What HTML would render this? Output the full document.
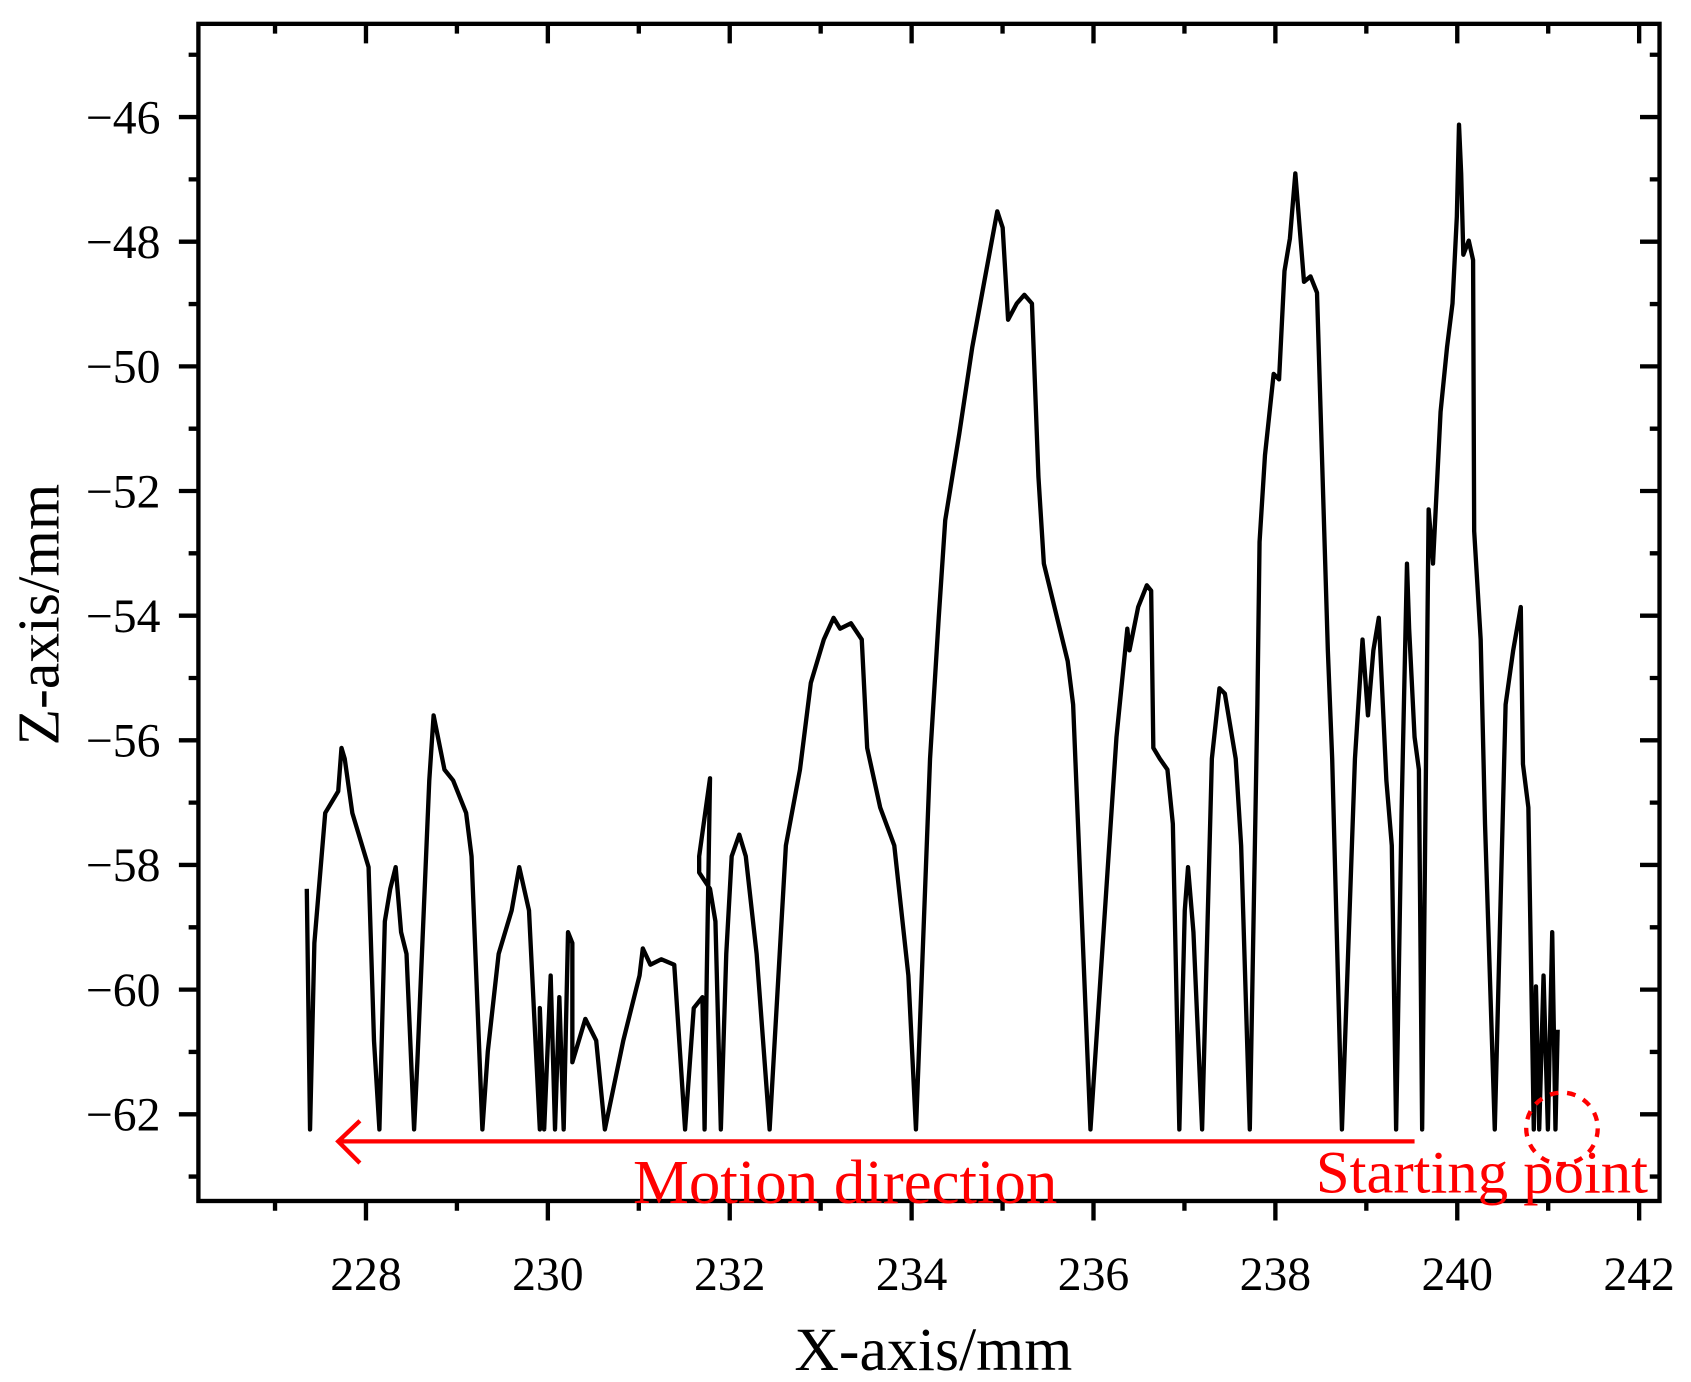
<!DOCTYPE html>
<html><head><meta charset="utf-8"><style>html,body{margin:0;padding:0;background:#fff}svg{display:block}</style></head>
<body>
<svg width="1691" height="1382" viewBox="0 0 1560 1275" xmlns="http://www.w3.org/2000/svg" font-family="Liberation Serif, serif">
<rect width="1560" height="1275" fill="#fff"/>
<g stroke="#000" stroke-width="4">
<rect x="183" y="22" width="1348" height="1086" fill="none"/>
<path d="M253.7,1108v9 M337.6,1108v18 M421.5,1108v9 M505.4,1108v18 M589.3,1108v9 M673.2,1108v18 M757.1,1108v9 M841,1108v18 M924.9,1108v9 M1008.8,1108v18 M1092.7,1108v9 M1176.6,1108v18 M1260.5,1108v9 M1344.4,1108v18 M1428.3,1108v9 M1512.2,1108v18"/>
<path d="M253.7,22v9 M337.6,22v18 M421.5,22v9 M505.4,22v18 M589.3,22v9 M673.2,22v18 M757.1,22v9 M841,22v18 M924.9,22v9 M1008.8,22v18 M1092.7,22v9 M1176.6,22v18 M1260.5,22v9 M1344.4,22v18 M1428.3,22v9 M1512.2,22v18"/>
<path d="M183,50.5h-9 M183,108h-18 M183,165.5h-9 M183,223h-18 M183,280.5h-9 M183,338h-18 M183,395.5h-9 M183,453h-18 M183,510.5h-9 M183,568h-18 M183,625.5h-9 M183,683h-18 M183,740.5h-9 M183,798h-18 M183,855.5h-9 M183,913h-18 M183,970.5h-9 M183,1028h-18 M183,1085.5h-9"/>
<path d="M1531,50.5h-9 M1531,108h-18 M1531,165.5h-9 M1531,223h-18 M1531,280.5h-9 M1531,338h-18 M1531,395.5h-9 M1531,453h-18 M1531,510.5h-9 M1531,568h-18 M1531,625.5h-9 M1531,683h-18 M1531,740.5h-9 M1531,798h-18 M1531,855.5h-9 M1531,913h-18 M1531,970.5h-9 M1531,1028h-18 M1531,1085.5h-9"/>
</g>
<g font-size="44" text-anchor="middle">
<text x="337.6" y="1190">228</text><text x="505.4" y="1190">230</text><text x="673.2" y="1190">232</text><text x="841" y="1190">234</text><text x="1008.8" y="1190">236</text><text x="1176.6" y="1190">238</text><text x="1344.4" y="1190">240</text><text x="1512.2" y="1190">242</text>
</g>
<g font-size="44" text-anchor="end">
<text x="148" y="123">−46</text><text x="148" y="238">−48</text><text x="148" y="353">−50</text><text x="148" y="468">−52</text><text x="148" y="583">−54</text><text x="148" y="698">−56</text><text x="148" y="813">−58</text><text x="148" y="928">−60</text><text x="148" y="1043">−62</text>
</g>
<text x="861" y="1264" font-size="57" text-anchor="middle">X-axis/mm</text>
<text transform="translate(54,567) rotate(-90)" font-size="55" text-anchor="middle">Z-axis/mm</text>
<polyline fill="none" stroke="#000" stroke-width="4" stroke-linejoin="round" points="1437,950 1435,1042 1432,860 1428,1042 1424,900 1420,1042 1417,910 1415,1042 1410,745 1405,705 1403,560 1396,600 1389,650 1379,1042 1370,760 1366,590 1360,490 1359,240 1355,222 1350,235 1348,160 1346,115 1344,200 1340,280 1335,320 1329,380 1322,520 1318,470 1312,1042 1309,710 1305,680 1300,580 1298,520 1293,750 1288,1042 1284,780 1279,720 1272,570 1267,600 1262,660 1257,590 1250,700 1238,1042 1229,700 1225,600 1215,270 1209,255 1203,260 1195,160 1190,220 1185,250 1180,350 1175,345 1167,420 1162,500 1160,650 1153,1042 1145,780 1140,700 1130,640 1125,635 1118,700 1109,1042 1101,860 1096,800 1093,840 1088,1042 1082,760 1077,710 1070,700 1064,690 1062,545 1058,540 1050,560 1042,600 1040,580 1030,680 1022,800 1006,1042 990,650 985,610 963,520 958,440 952,280 945,272 938,280 930,295 925,210 920,195 908,260 897,320 885,400 872,480 866,570 858,700 845,1042 838,900 825,780 812,745 800,690 795,590 785,575 775,580 769,570 760,590 748,630 738,710 725,780 710,1042 698,880 688,790 682,770 675,790 670,880 665,1042 660,850 655,820 645,805 645,790 655,718 652,900 650,1042 648,920 640,930 632,1042 622,890 610,885 600,890 593,875 590,900 575,960 558,1042 550,960 540,940 528,980 528,870 524,860 520,1042 516,920 512,1042 508,900 502,1042 498,930 498,1042 488,840 479,800 472,840 460,880 450,970 445,1042 435,790 430,750 418,720 410,710 400,660 396,720 385,980 382,1042 375,880 370,860 365,800 360,820 355,850 350,1042 345,960 340,800 325,750 318,700 315,690 312,730 300,750 290,870 286,1042 283,820"/>
<g stroke="#f00" stroke-width="4" fill="none">
<path d="M1305,1053H312 M332,1034L312,1053L332,1073"/>
<circle cx="1441" cy="1041" r="33" stroke-dasharray="8,8"/>
</g>
<text x="584" y="1110" font-size="58" fill="#f00">Motion direction</text>
<text x="1214" y="1100" font-size="56" fill="#f00">Starting point</text>
</svg>
</body></html>
